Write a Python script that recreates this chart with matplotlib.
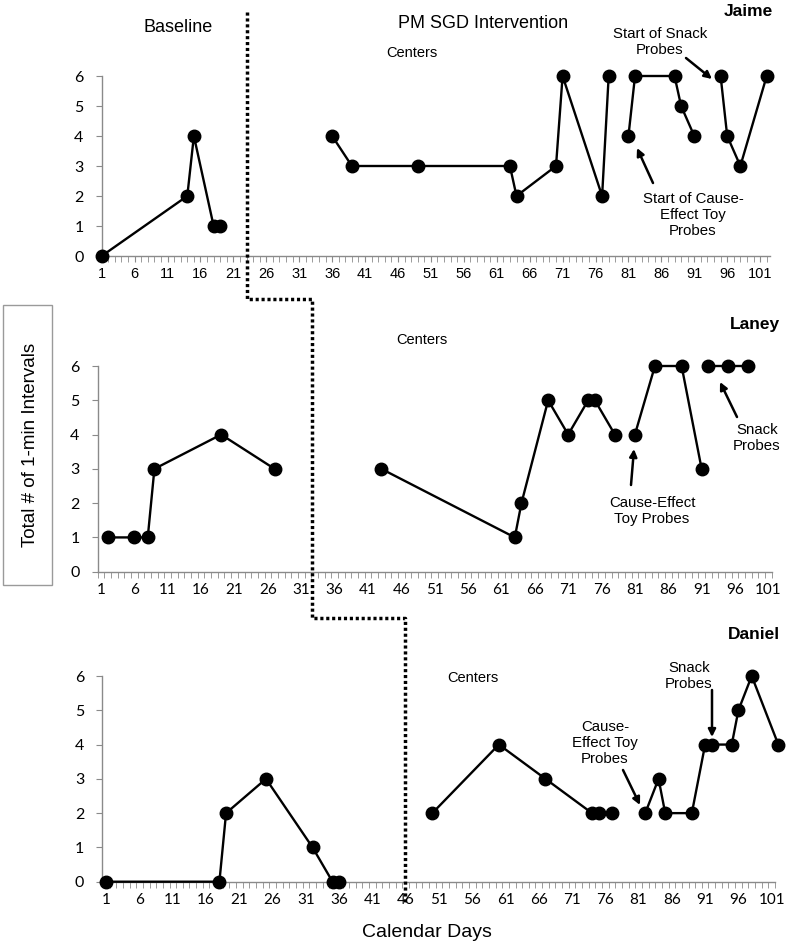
import matplotlib
matplotlib.use('Agg')
import matplotlib.pyplot as plt
from matplotlib.lines import Line2D
from matplotlib.patches import Rectangle

W, H = 787, 947

# ---------------- data ----------------
jaime_base_days = [1, 14, 15, 18, 19]
jaime_base_vals = [0, 2, 4, 1, 1]
jaime_ctr_days = [36, 39, 49, 63, 64, 70, 71, 77, 78]
jaime_ctr_vals = [4, 3, 3, 3, 2, 3, 6, 2, 6]
jaime_toy_days = [81, 82, 88, 89, 91]
jaime_toy_vals = [4, 6, 6, 5, 4]
jaime_snack_days = [95, 96, 98, 102]
jaime_snack_vals = [6, 4, 3, 6]

laney_base_days = [2, 6, 8, 9, 19, 27]
laney_base_vals = [1, 1, 1, 3, 4, 3]
laney_ctr_days = [43, 63, 64, 68, 71, 74, 75, 78]
laney_ctr_vals = [3, 1, 2, 5, 4, 5, 5, 4]
laney_toy_days = [81, 84, 88, 91]
laney_toy_vals = [4, 6, 6, 3]
laney_snack_days = [92, 95, 98]
laney_snack_vals = [6, 6, 6]

daniel_base_days = [1, 18, 19, 25, 32, 35, 36]
daniel_base_vals = [0, 0, 2, 3, 1, 0, 0]
daniel_ctr_days = [50, 60, 67, 74, 75, 77]
daniel_ctr_vals = [2, 4, 3, 2, 2, 2]
daniel_probe_days = [82, 84, 85, 89, 91, 92, 95, 96, 98, 102]
daniel_probe_vals = [2, 3, 2, 2, 4, 4, 4, 5, 6, 4]

x_tick_labels = list(range(1, 102, 5))
y_ticks = [0, 1, 2, 3, 4, 5, 6]
phase_change_days = [23.1, 32.6, 45.9]   # Jaime, Laney, Daniel

# ---------------- figure ----------------
fig = plt.figure(figsize=(W / 100, H / 100), dpi=100)
fig.patch.set_facecolor('white')


def P(x, y):
    return (x / W, 1 - y / H)


def make_ax(left, right, top, bottom, xlim, on_ticks, xfont, xsize, xpad):
    ax = fig.add_axes([left / W, 1 - bottom / H, (right - left) / W, (bottom - top) / H])
    ax.set_xlim(*xlim)
    ax.set_ylim(0, 6)
    for s in ['top', 'right']:
        ax.spines[s].set_visible(False)
    for s in ['left', 'bottom']:
        ax.spines[s].set_color('#8a8a8a')
        ax.spines[s].set_linewidth(1.0)
    ax.set_yticks(y_ticks)
    ax.set_yticklabels([str(v) for v in y_ticks], fontfamily='Lato', fontsize=11.5)
    ax.tick_params(axis='y', length=4, color='#8a8a8a', pad=9)
    ax.set_xticks(x_tick_labels)
    ax.set_xticklabels([str(v) for v in x_tick_labels], fontfamily=xfont, fontsize=xsize)
    if on_ticks:
        ax.set_xticks(range(1, 103), minor=True)
        ax.tick_params(axis='x', which='major', length=4, color='#8a8a8a', pad=xpad)
    else:
        ax.set_xticks([d + 0.5 for d in range(0, 102)], minor=True)
        ax.tick_params(axis='x', which='major', length=0, pad=xpad)
    ax.tick_params(axis='x', which='minor', length=4, color='#8a8a8a')
    ax.patch.set_alpha(0)
    return ax


def series(ax, days, vals):
    ax.plot(days, vals, color='black', lw=1.7, marker='o', ms=9,
            markerfacecolor='black', markeredgecolor='black', clip_on=False, zorder=5)


ax1 = make_ax(101.7, 770, 76, 256, (1, 102.5), True, 'Liberation Sans', 10.5, 4)
ax2 = make_ax(97.7, 771.7, 366, 571.7, (0.5, 101.5), False, 'Lato', 11, 8)
ax3 = make_ax(102.3, 775, 676, 881.7, (0.4, 101.4), False, 'Lato', 11, 8)

series(ax1, jaime_base_days, jaime_base_vals)
series(ax1, jaime_ctr_days, jaime_ctr_vals)
series(ax1, jaime_toy_days, jaime_toy_vals)
series(ax1, jaime_snack_days, jaime_snack_vals)

series(ax2, laney_base_days, laney_base_vals)
series(ax2, laney_ctr_days, laney_ctr_vals)
series(ax2, laney_toy_days, laney_toy_vals)
series(ax2, laney_snack_days, laney_snack_vals)

series(ax3, daniel_base_days, daniel_base_vals)
series(ax3, daniel_ctr_days, daniel_ctr_vals)
series(ax3, daniel_probe_days, daniel_probe_vals)

# ---------------- phase change line ----------------
def xpix(ax, d):
    return ax.transData.transform((d, 0))[0]

xj = xpix(ax1, phase_change_days[0])
xl = xpix(ax2, phase_change_days[1])
xd = xpix(ax3, phase_change_days[2])
pts_y = [H - 12, H - 299, H - 299, H - 618, H - 618, H - 902]
pts_x = [xj, xj, xl, xl, xd, xd]
fig.add_artist(Line2D([x / W for x in pts_x], [y / H for y in pts_y],
                      transform=fig.transFigure, color='black', lw=2.5,
                      linestyle=(0, (0.9, 0.8)), zorder=10))

# ---------------- texts ----------------
TF = 'Liberation Sans'
fig.text(*P(178, 28), 'Baseline', ha='center', va='center', fontsize=13, family=TF)
fig.text(*P(483, 24), 'PM SGD Intervention', ha='center', va='center', fontsize=13, family=TF)
fig.text(*P(773, 11), 'Jaime', ha='right', va='center', fontsize=12.5, family=TF, weight='bold')
fig.text(*P(780, 325), 'Laney', ha='right', va='center', fontsize=12.5, family=TF, weight='bold')
fig.text(*P(780, 634), 'Daniel', ha='right', va='center', fontsize=12.5, family=TF, weight='bold')

fig.text(*P(412, 53), 'Centers', ha='center', va='center', fontsize=10.5, family=TF)
fig.text(*P(422, 340), 'Centers', ha='center', va='center', fontsize=10.5, family=TF)
fig.text(*P(473, 678), 'Centers', ha='center', va='center', fontsize=10.5, family=TF)

arrow = dict(arrowstyle='-|>', lw=1.8, color='black', mutation_scale=11, shrinkA=0, shrinkB=0)


def note(text, tx, ty, ax_, ay_, bx_, by_):
    fig.text(*P(tx, ty), text, ha='center', va='center', fontsize=10.8, family=TF,
             linespacing=1.18)
    fig.add_artist(plt.Annotation('', xy=P(bx_, by_), xytext=P(ax_, ay_),
                                  xycoords='figure fraction', textcoords='figure fraction',
                                  arrowprops=arrow))


note('Start of Snack\nProbes', 660, 42, 686, 58, 712, 79)
note('Start of Cause-\nEffect Toy\nProbes', 693, 215, 653, 183, 637, 148)
note('Cause-Effect\nToy Probes', 652, 511, 631, 485, 634, 449)
note('Snack\nProbes', 757, 438, 737, 417, 720, 382)
note('Snack\nProbes', 689, 676, 712, 690, 712, 737)
note('Cause-\nEffect Toy\nProbes', 605, 743, 623, 770, 640, 805)

# y label box
fig.add_artist(Rectangle(P(3, 585), 49 / W, 280 / H, transform=fig.transFigure,
                         fill=False, edgecolor='#9a9a9a', lw=1.0))
fig.text(*P(31, 445), 'Total # of 1-min Intervals', rotation=90, ha='center', va='center',
         fontsize=13.5, family=TF)
fig.text(*P(427, 932), 'Calendar Days', ha='center', va='center', fontsize=14, family=TF)

fig.savefig('out.png', dpi=100)
